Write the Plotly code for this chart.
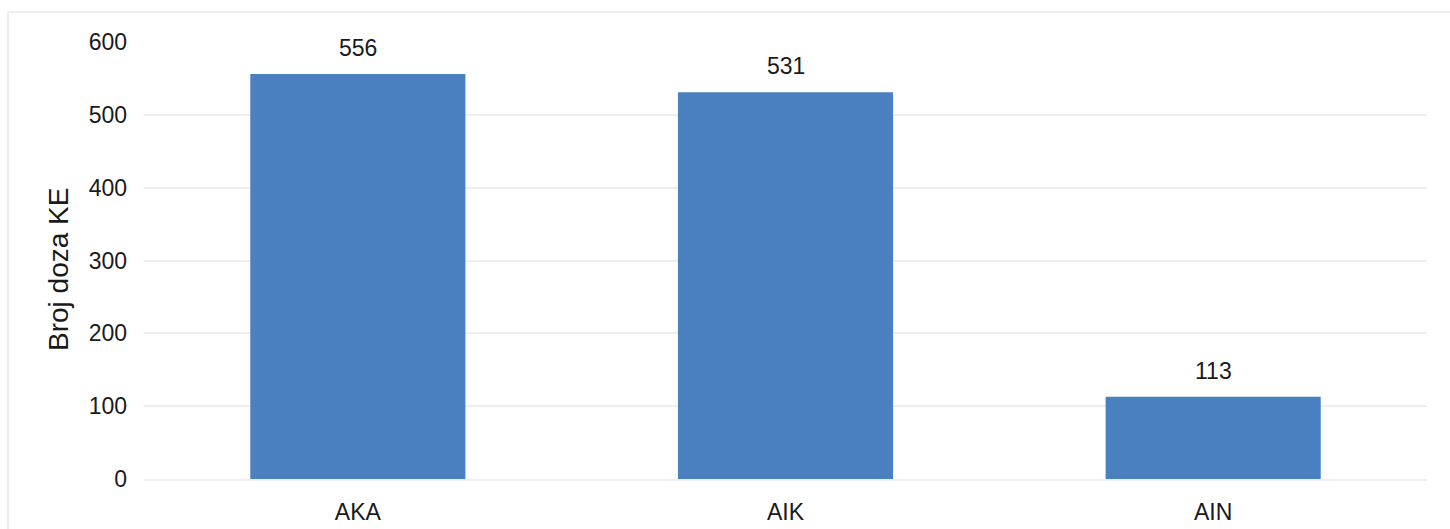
import plotly.graph_objects as go

categories = ["AKA", "AIK", "AIN"]
values = [556, 531, 113]
y_ticks = [0, 100, 200, 300, 400, 500, 600]
y_title = "Broj doza KE"

L, R, T, B = 144, 23, 42, 50
W, H = 1450, 529
pw, ph = W - L - R, H - T - B

fig = go.Figure()
fig.add_trace(go.Bar(
    x=categories, y=values,
    marker=dict(color="#4a7fc0", line=dict(width=0)),
    hoverinfo="x+y",
))

annotations = [
    dict(x=c, y=v, xref="x", yref="y", text=str(v), showarrow=False,
         yanchor="bottom", yshift=11,
         font=dict(family="Liberation Sans, Arial", size=23, color="#1a1a1a"))
    for c, v in zip(categories, values)
]
annotations.append(dict(
    x=(58 - L) / pw, y=(T + ph - 270) / ph, xref="paper", yref="paper",
    text=y_title, textangle=-90, showarrow=False, xanchor="center", yanchor="middle",
    font=dict(family="Liberation Sans, Arial", size=28, color="#1a1a1a"),
))

fig.update_layout(
    width=W, height=H,
    margin=dict(l=L, r=R, t=T, b=B, autoexpand=False),
    paper_bgcolor="white", plot_bgcolor="white",
    bargap=0.497,
    showlegend=False,
    font=dict(family="Liberation Sans, Arial", size=23, color="#1a1a1a"),
    annotations=annotations,
    shapes=[dict(type="rect", xref="paper", yref="paper",
                 x0=(8 - L) / pw, x1=(W + 20 - L) / pw,
                 y0=-(H + 20 - (T + ph)) / ph, y1=(T + ph - 12) / ph,
                 line=dict(color="#e8e8e8", width=1.5), layer="below")],
)
fig.update_yaxes(
    range=[0, 600], tickvals=y_ticks, showgrid=True, gridcolor="#eeeeee", gridwidth=1.5,
    zeroline=False, showline=False, ticks="", ticklabelstandoff=16, automargin=False,
    tickfont=dict(size=23),
)
fig.update_xaxes(
    showline=True, linecolor="#eeeeee", linewidth=1.5, ticks="", ticklabelstandoff=12,
    automargin=False, tickfont=dict(size=23),
)
fig.write_html("out.html")
